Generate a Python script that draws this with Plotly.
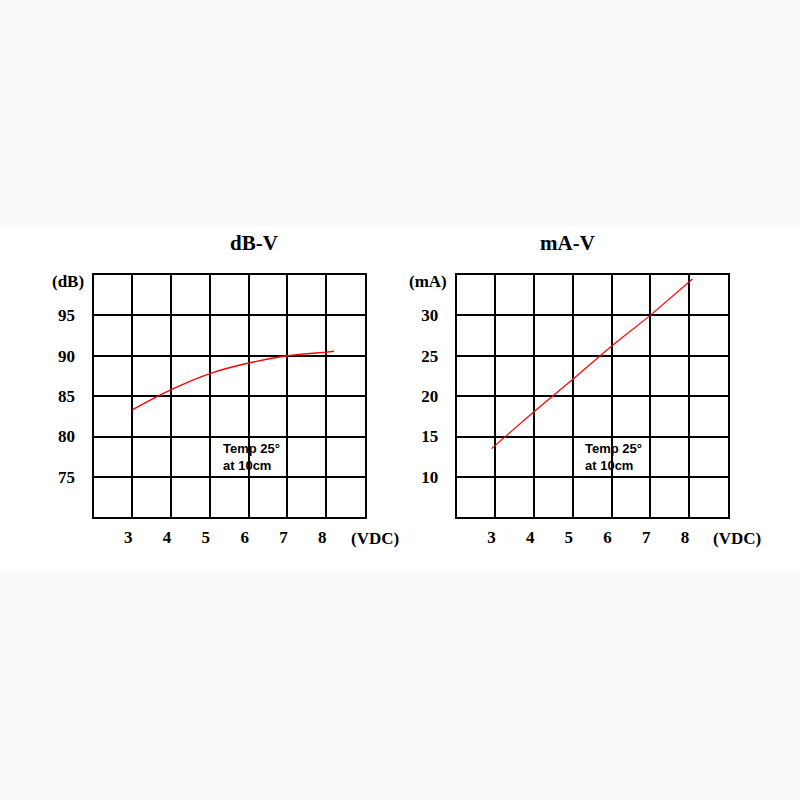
import plotly.graph_objects as go

# ---- data ----
volts_db = [3, 4, 5, 6, 7, 8, 8.2]
db_vals = [83.3, 85.8, 87.8, 89.1, 90.0, 90.45, 90.55]

volts_ma = [2.9, 4, 5, 6, 7, 8.09]
ma_vals = [13.5, 18.1, 22.1, 26.2, 30.0, 34.5]

x_ticks = [3, 4, 5, 6, 7, 8]
db_ticks = [75, 80, 85, 90, 95]
ma_ticks = [10, 15, 20, 25, 30]

W = H = 800
def px_x(p):
    return p / W
def px_y(p):
    return 1 - p / H

fig = go.Figure()
fig.add_trace(go.Scatter(x=volts_db, y=db_vals, mode="lines", line=dict(color="#ff0000", width=1.4, shape="spline"),
                         xaxis="x", yaxis="y", showlegend=False, hoverinfo="skip"))
fig.add_trace(go.Scatter(x=volts_ma, y=ma_vals, mode="lines", line=dict(color="#ff0000", width=1.2),
                         xaxis="x2", yaxis="y2", showlegend=False, hoverinfo="skip"))

tickfont = dict(family="Liberation Serif", size=17, color="black", weight="bold")
common_x = dict(range=[2, 9], tickvals=x_ticks, showgrid=True, gridcolor="black", gridwidth=1.5,
                showline=True, linecolor="black", linewidth=2, mirror=True, zeroline=False,
                ticks="", tickfont=tickfont, ticklabelshift=-4, ticklabelstandoff=3, fixedrange=True)
common_y = dict(showgrid=True, gridcolor="black", gridwidth=1.5,
                showline=True, linecolor="black", linewidth=2, mirror=True, zeroline=False,
                ticks="", tickfont=tickfont, ticklabelstandoff=13, fixedrange=True)

fig.update_layout(
    width=W, height=H, autosize=False,
    margin=dict(l=0, r=0, t=0, b=0),
    paper_bgcolor="#f8f9fa", plot_bgcolor="white",
    xaxis=dict(domain=[px_x(93.5), px_x(365)], anchor="y", **common_x),
    yaxis=dict(domain=[px_y(517.3), px_y(275)], anchor="x", range=[70, 100], tickvals=db_ticks, **common_y),
    xaxis2=dict(domain=[px_x(456.7), px_x(727.7)], anchor="y2", **common_x),
    yaxis2=dict(domain=[px_y(517.3), px_y(275)], anchor="x2", range=[5, 35], tickvals=ma_ticks, **common_y),
    shapes=[dict(type="rect", xref="paper", yref="paper", x0=0, x1=1, y0=px_y(573), y1=px_y(225),
                 fillcolor="white", line=dict(width=0), layer="below")],
)

title_font = dict(family="Liberation Serif", size=21, color="black", weight="bold")
label_font = dict(family="Liberation Serif", size=17, color="black", weight="bold")
note_font = dict(family="Liberation Sans", size=13, color="black", weight="bold")

base = dict(xref="paper", yref="paper", showarrow=False, yanchor="middle")
ann = [
    dict(text="dB-V", x=px_x(228), y=px_y(243), font=title_font, **base),
    dict(text="mA-V", x=px_x(597), y=px_y(243), font=title_font, **base),
    dict(text="(dB)", x=px_x(86), y=px_y(281), xanchor="right", font=label_font, **base),
    dict(text="(mA)", x=px_x(449), y=px_y(281), xanchor="right", font=label_font, **base),
    dict(text="(VDC)", x=px_x(349), y=px_y(538), xanchor="left", font=label_font, **base),
    dict(text="(VDC)", x=px_x(711), y=px_y(538), xanchor="left", font=label_font, **base),
    dict(text="Temp 25°<br>at 10cm", x=px_x(221), y=px_y(457), xanchor="left", align="left", font=note_font, **base),
    dict(text="Temp 25°<br>at 10cm", x=px_x(583), y=px_y(457), xanchor="left", align="left", font=note_font, **base),
]
fig.update_layout(annotations=ann)

fig.write_html("out.html", config={"displayModeBar": False},
               post_script="document.body.style.margin='0';document.body.style.background='#f8f9fa';")
